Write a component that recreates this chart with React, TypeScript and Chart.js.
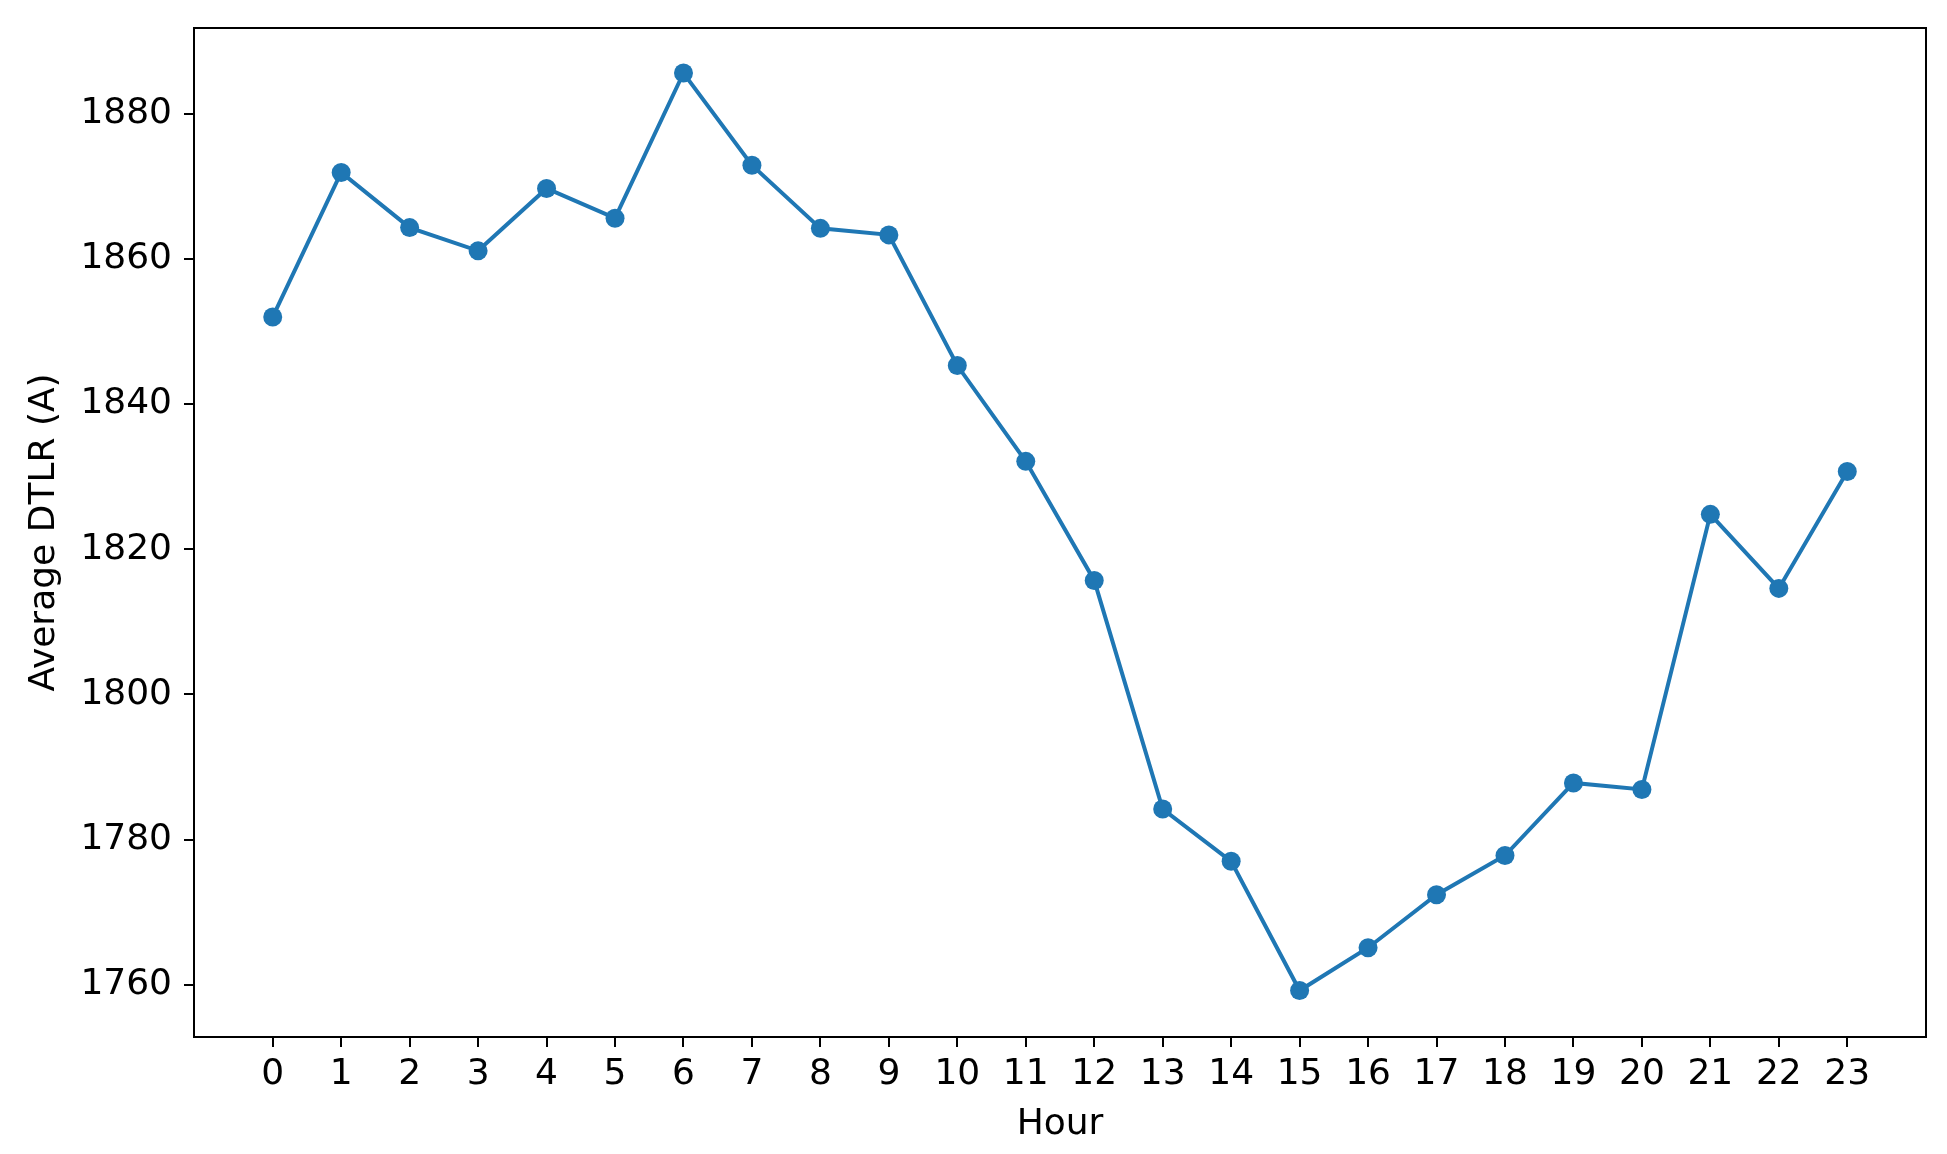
import React, { useEffect, useRef } from "react";
import { Chart, registerables } from "chart.js";

Chart.register(...registerables);

const hours: number[] = [0, 1, 2, 3, 4, 5, 6, 7, 8, 9, 10, 11, 12, 13, 14, 15, 16, 17, 18, 19, 20, 21, 22, 23];
const avgDTLR: number[] = [
  1852.0, 1871.9, 1864.3, 1861.1, 1869.7, 1865.6, 1885.6, 1872.9, 1864.2, 1863.3, 1845.3, 1832.1,
  1815.7, 1784.2, 1777.0, 1759.2, 1765.1, 1772.4, 1777.8, 1787.8, 1786.9, 1824.8, 1814.6, 1830.7,
];
const yTicks: number[] = [1760, 1780, 1800, 1820, 1840, 1860, 1880];
const xTitle = "Hour";
const yTitle = "Average DTLR (A)";

const W = 1947;
const H = 1154;
const FONT = "'DejaVu Sans', sans-serif";

const frame = {
  id: "frame",
  afterDraw(chart: any) {
    const { ctx, chartArea } = chart;
    ctx.save();
    ctx.strokeStyle = "#000";
    ctx.lineWidth = 2;
    ctx.strokeRect(chartArea.left, chartArea.top, chartArea.right - chartArea.left, chartArea.bottom - chartArea.top);
    ctx.restore();
  },
};

export default function App() {
  const ref = useRef<HTMLCanvasElement>(null);
  useEffect(() => {
    if (!ref.current) return;
    const chart = new Chart(ref.current, {
      type: "line",
      data: {
        datasets: [
          {
            data: hours.map((h, i) => ({ x: h, y: avgDTLR[i] })),
            borderColor: "#1f77b4",
            backgroundColor: "#1f77b4",
            borderWidth: 4,
            pointRadius: 9.5,
            pointBorderWidth: 0,
            pointBackgroundColor: "#1f77b4",
            tension: 0,
          },
        ],
      },
      plugins: [frame],
      options: {
        animation: false,
        responsive: false,
        devicePixelRatio: 1,
        layout: { padding: { left: 0, right: 21, top: 28, bottom: 0 } },
        plugins: { legend: { display: false }, tooltip: { enabled: false } },
        scales: {
          x: {
            type: "linear",
            min: -1.15,
            max: 24.15,
            afterBuildTicks: (s: any) => {
              s.ticks = hours.map((v) => ({ value: v }));
            },
            afterFit: (s: any) => {
              s.height = 117;
              s.paddingLeft = 0;
              s.paddingRight = 0;
            },
            border: { display: false },
            grid: { drawOnChartArea: false, drawTicks: true, tickLength: 10, color: "#000", tickColor: "#000", lineWidth: 2 },
            ticks: { color: "#000", font: { family: FONT, size: 36 }, padding: 6, maxRotation: 0, autoSkip: false, callback: (v: any) => String(v) },
            title: { display: true, text: xTitle, color: "#000", font: { family: FONT, size: 36 }, padding: { top: 0, bottom: 8 } },
          },
          y: {
            type: "linear",
            min: 1752.8,
            max: 1891.8,
            afterBuildTicks: (s: any) => {
              s.ticks = yTicks.map((v) => ({ value: v }));
            },
            afterFit: (s: any) => {
              s.width = 194;
              s.paddingTop = 0;
              s.paddingBottom = 0;
            },
            border: { display: false },
            grid: { drawOnChartArea: false, drawTicks: true, tickLength: 10, color: "#000", tickColor: "#000", lineWidth: 2 },
            ticks: { color: "#000", font: { family: FONT, size: 36 }, padding: 12, autoSkip: false, callback: (v: any) => String(v) },
            title: { display: true, text: yTitle, color: "#000", font: { family: FONT, size: 36 }, padding: { top: 23, bottom: 0 } },
          },
        },
      },
    } as any);
    return () => chart.destroy();
  }, []);
  return (
    <div style={{ position: "fixed", left: 0, top: 0, width: W, height: H, background: "#fff" }}>
      <canvas ref={ref} width={W} height={H} style={{ width: W, height: H, display: "block" }} />
    </div>
  );
}
